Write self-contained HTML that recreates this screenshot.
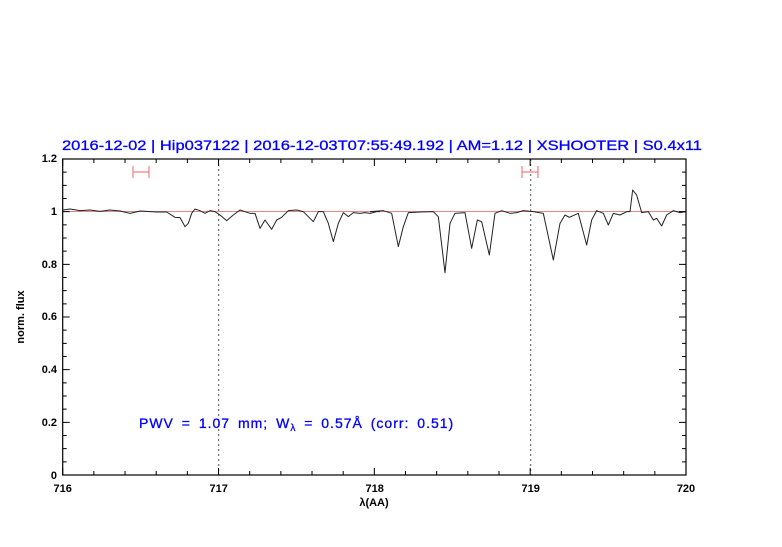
<!DOCTYPE html>
<html><head><meta charset="utf-8"><style>
html,body{margin:0;padding:0;background:#fff;}
svg text{font-family:"Liberation Sans",sans-serif;}
</style></head><body>
<svg width="782" height="542" xmlns="http://www.w3.org/2000/svg">
<rect width="782" height="542" fill="#fff"/>
<text x="62" y="150" fill="#0000ff" font-size="14" textLength="640" lengthAdjust="spacingAndGlyphs" stroke="#0000ff" stroke-width="0.3">2016-12-02 | Hip037122 | 2016-12-03T07:55:49.192 | AM=1.12 | XSHOOTER | S0.4x11</text>
<line x1="62.7" y1="211.5" x2="686" y2="211.5" stroke="#e08a8a" stroke-width="1"/>
<g stroke="#555" stroke-dasharray="2,3" stroke-width="1">
<line x1="218.7" y1="159" x2="218.7" y2="475"/>
<line x1="530.7" y1="159" x2="530.7" y2="475"/>
</g>
<g stroke="#f08080" stroke-width="1.2" fill="none">
<path d="M133 172H149M133 166V178M149 166V178"/>
<path d="M522 172H538M522 166V178M538 166V178"/>
</g>
<g fill="none" stroke="#222" stroke-width="1" stroke-linejoin="round">
<path transform="translate(60,180) scale(0.33333)" vector-effect="non-scaling-stroke" d="M9,90 L30,87 L60,92 L90,90 L120,94 L150,90 L180,93 L210,100 L240,93 L290,96 L320,96 L345,112 L360,113 L375,140 L385,130 L395,100 L405,87 L420,92 L435,100 L450,92 L465,95 L480,105 L500,122 L520,105 L540,90 L555,95 L570,100 L585,100 L600,145 L615,120 L635,148 L650,120 L665,112 L685,92 L710,90 L730,95 L760,125 L775,95 L790,95 L805,130 L820,185 L835,130 L850,98 L865,110 L880,98 L900,100 L915,98 L930,100 L950,95 L960,95"/>
<path transform="translate(370,180) scale(0.33333)" vector-effect="non-scaling-stroke" d="M0,95 L40,92 L65,100 L85,200 L100,140 L115,98 L150,96 L190,95 L205,110 L225,278 L240,130 L255,100 L285,98 L305,205 L322,120 L335,125 L358,225 L375,100 L395,92 L420,100 L440,98 L460,92 L490,95 L520,100 L550,240 L570,130 L585,105 L598,112 L625,100 L650,195 L665,120 L680,92 L700,100 L715,135 L730,100 L750,105 L770,95 L780,95 L788,30 L800,45 L815,98 L835,95 L850,120 L860,115 L875,138 L890,105 L910,92 L930,98 L948,95"/>
</g>
<rect x="62.7" y="159" width="623.3" height="316" fill="none" stroke="#000" stroke-width="1.2"/>
<g stroke="#000" stroke-width="1" id="ticks"></g>
<g font-size="11" font-weight="bold" fill="#000" text-anchor="middle">
<text x="62.7" y="492">716</text><text x="218.7" y="492">717</text><text x="374.7" y="492">718</text><text x="530.7" y="492">719</text><text x="686" y="492">720</text>
</g>
<g font-size="11" font-weight="bold" fill="#000" text-anchor="end">
<text x="57" y="479">0</text><text x="57" y="426">0.2</text><text x="57" y="373">0.4</text><text x="57" y="320">0.6</text><text x="57" y="268">0.8</text><text x="57" y="215">1</text><text x="57" y="162">1.2</text>
</g>
<text x="374" y="506" font-size="11" font-weight="bold" text-anchor="middle">λ(AA)</text>
<text transform="translate(24,317) rotate(-90)" font-size="11" font-weight="bold" text-anchor="middle">norm. flux</text>
<text x="139" y="428" fill="#0000ff" font-size="14" stroke="#0000ff" stroke-width="0.3" letter-spacing="1" word-spacing="3">PWV = 1.07 mm; W<tspan font-size="10" dy="3">λ</tspan><tspan dy="-3"> = 0.57Å (corr: 0.51)</tspan></text>
<script>
var g=document.getElementById('ticks'),s='';
for(var i=0;i<=20;i++){var x=62.7+i*31.165,L=(i%5==0)?7:4;s+='M'+x+' 475v-'+L+'M'+x+' 159v'+L;}
for(var j=0;j<=24;j++){var y=475-j*13.167,L=(j%4==0)?7:4;s+='M62.7 '+y+'h'+L+'M686 '+y+'h-'+L;}
var p=document.createElementNS('http://www.w3.org/2000/svg','path');p.setAttribute('d',s);g.appendChild(p);
</script>
</svg>
</body></html>
